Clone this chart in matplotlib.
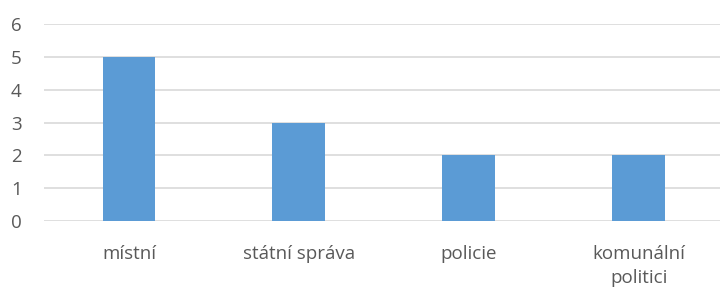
import matplotlib
matplotlib.use("Agg")
import matplotlib.pyplot as plt

kategorie = ["místní", "státní správa", "policie", "komunální\npolitici"]
hodnoty = [5, 3, 2, 2]
yticks = [0, 1, 2, 3, 4, 5, 6]

plt.rcParams['font.family'] = ['Open Sans', 'DejaVu Sans']

fig = plt.figure(figsize=(7.2, 2.89), dpi=100)
ax = fig.add_axes([0.061, 0.235, 0.944, 0.682])

x = range(len(kategorie))
ax.bar(x, hodnoty, width=0.31, color='#5b9bd5', zorder=3)

ax.set_ylim(0, 6)
ax.set_xlim(-0.5, len(kategorie) - 0.5)
ax.set_yticks(yticks)
ax.set_xticks(list(x))
ax.set_xticklabels(kategorie, linespacing=1.45)
ax.yaxis.grid(True, color='#d9d9d9', linewidth=1.2, zorder=0)
for s in ax.spines.values():
    s.set_visible(False)
ax.tick_params(axis='both', length=0, labelsize=13.5, colors='#595959')
ax.tick_params(axis='x', pad=17)
ax.tick_params(axis='y', pad=16)

fig.savefig("out.png", dpi=100)
